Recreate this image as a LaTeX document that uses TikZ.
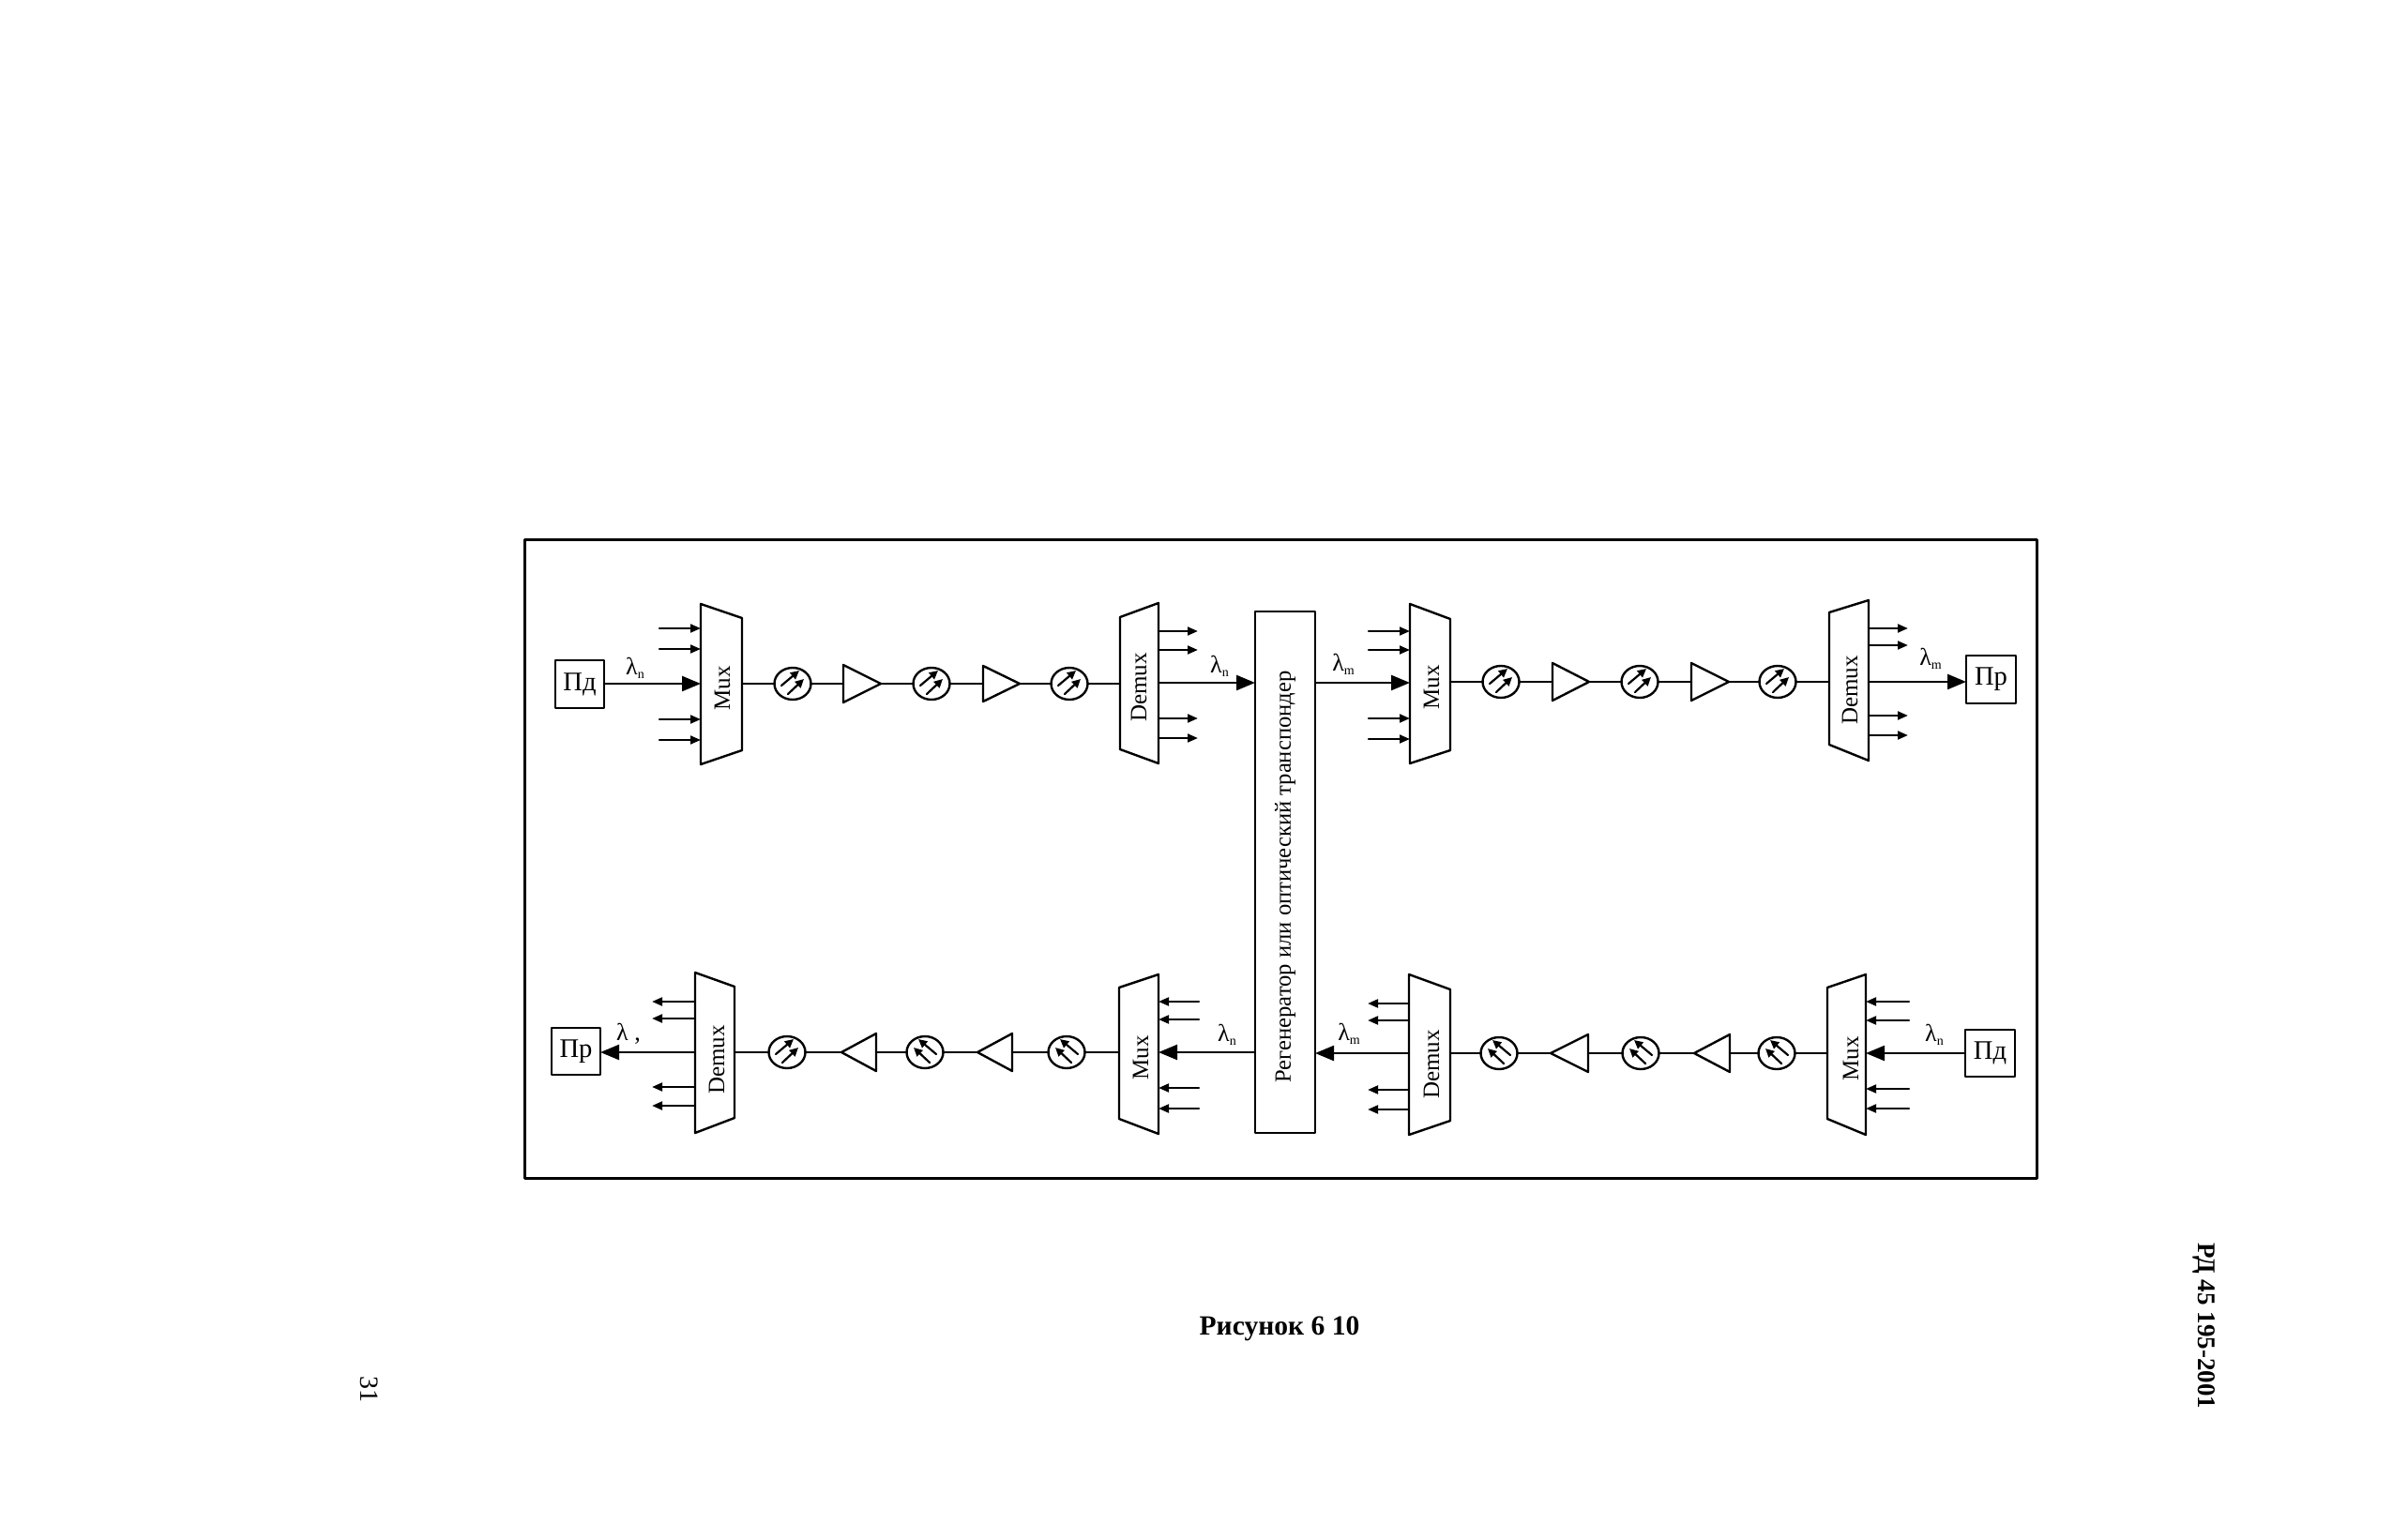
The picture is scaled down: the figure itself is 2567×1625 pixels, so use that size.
\documentclass[tikz,border=0pt]{standalone}
\usepackage{fontspec}
\setmainfont{Liberation Serif}
\usetikzlibrary{arrows.meta,shapes.geometric}
\tikzset{
  every node/.style={inner sep=0pt,outer sep=0pt},
  base/.style={line width=1.2pt,line join=round,line cap=round},
  framebox/.style={base,line width=1.5pt},
  unitbox/.style={base,draw,line width=1.3pt,rectangle,font=\fontsize{14.3}{16}\selectfont},
  fibre/.style={base,draw,ellipse,minimum width=19.5pt,minimum height=17pt},
  label/.style={font=\fontsize{12.5}{15}\selectfont},
  regenlabel/.style={font=\fontsize{12.3}{15}\selectfont},
  mainline/.style={base,-{Triangle[length=10pt,width=8pt]}},
  sideline/.style={base,-{Triangle[length=5.5pt,width=4.4pt]}},
  fibrearrow/.style={base,line width=1.1pt,-{Triangle[length=4.6pt,width=4.4pt]}},
  wl/.style={font=\fontsize{13}{15}\selectfont}
}
\newcommand{\lam}[1]{λ\raisebox{-.35ex}{\fontsize{7}{8}\selectfont #1}}
% box: name, x1, y1, x2, y2, text
\newcommand{\unit}[6]{\node[unitbox,minimum width=#4*0.5pt-#2*0.5pt,minimum height=#5*0.5pt-#3*0.5pt] (#1) at ({(#2+#4)/2},{(#3+#5)/2}) {#6};}
% trapezoid: name, xl, xr, yl-top, yl-bot, yr-top, yr-bot
\newcommand{\trap}[7]{\draw[base] (#2,#4) -- (#3,#6) -- (#3,#7) -- (#2,#5) -- cycle;
  \coordinate (#1L) at (#2,{(#4+#5)/2}); \coordinate (#1R) at (#3,{(#4+#5)/2});}
% amplifier: name, xbase, xtip, ytop, ybot
\newcommand{\amp}[5]{\draw[base] (#2,#4) -- (#3,{(#4+#5)/2}) -- (#2,#5) -- cycle;
  \coordinate (#1B) at (#2,{(#4+#5)/2}); \coordinate (#1T) at (#3,{(#4+#5)/2});}
% fibre span: name, x, y, direction
\newcommand{\fib}[4]{\node[fibre] (#1) at (#2,#3) {};
  \begin{scope}[shift={(#1)},xscale=#4]
   \draw[fibrearrow] (-12,2) -- (7,-14);
   \draw[fibrearrow] (-5,11) -- (12,-5);
  \end{scope}}
% side arrow: name, x from, x to, y
\newcommand{\sidearrow}[4]{\coordinate (#1a) at (#2,#4); \coordinate (#1b) at (#3,#4); \draw[sideline] (#1a) -- (#1b);}
\begin{document}
\begin{tikzpicture}[x=0.5pt,y=-0.5pt]
\useasboundingbox (0,0) rectangle (2567,1625);
\node[draw,framebox,minimum width=806pt,minimum height=340pt] (frame) at (1365.5,916) {};

% ---- top left span ----
\unit{txa}{592}{704}{644}{755}{Пд}
\trap{muxa}{747}{791}{644}{815}{659}{800}
\node[label,rotate=90] (muxalab) at (770,734) {Mux};
\sidearrow{ma1}{703}{747}{670}
\sidearrow{ma2}{703}{747}{692}
\sidearrow{ma3}{703}{747}{767}
\sidearrow{ma4}{703}{747}{789}
\coordinate (muxain) at (747,729);
\coordinate (muxaout) at (791,729);
\draw[mainline] (txa.east |- muxain) -- (muxain);
\node[wl] (la) at (677,712) {\lam{n}};
\fib{fa1}{845}{729}{1}
\fib{fa2}{993}{729}{1}
\fib{fa3}{1140}{729}{1}
\amp{aa1}{899}{939}{709}{749}
\amp{aa2}{1048}{1087}{710}{748}
\trap{dma}{1194}{1235}{658}{799}{643}{814}
\node[label,rotate=90] (dmalab) at (1214,733) {Demux};
\coordinate (dmain) at (1194,729);
\coordinate (dmaout) at (1235,728);
\draw[base] (muxaout) -- (fa1) (fa1) -- (aa1B) (aa1T) -- (fa2) (fa2) -- (aa2B) (aa2T) -- (fa3) (fa3) -- (dmain);
\sidearrow{da1}{1235}{1277}{673}
\sidearrow{da2}{1235}{1277}{693}
\sidearrow{da3}{1235}{1277}{766}
\sidearrow{da4}{1235}{1277}{787}

% ---- regenerator ----
\unit{regen}{1338}{652}{1402}{1208}{}
\node[regenlabel,rotate=90] (regenlab) at (1370,935) {Регенератор или оптический транспондер};
\coordinate (regTL) at (1338,728);
\coordinate (regTR) at (1402,728);
\coordinate (regBL) at (1338,1123);
\coordinate (regBR) at (1402,1123);
\draw[mainline] (dmaout) -- (regTL);
\node[wl] (lb) at (1300,710) {\lam{n}};

% ---- top right span ----
\trap{muxb}{1503}{1546}{644}{814}{660}{800}
\node[label,rotate=90] (muxblab) at (1526,733) {Mux};
\sidearrow{mb1}{1459}{1503}{673}
\sidearrow{mb2}{1459}{1503}{693}
\sidearrow{mb3}{1459}{1503}{766}
\sidearrow{mb4}{1459}{1503}{788}
\coordinate (muxbin) at (1503,728);
\coordinate (muxbout) at (1546,727);
\draw[mainline] (regTR) -- (muxbin);
\node[wl] (lc) at (1432,708) {\lam{m}};
\fib{fb1}{1600}{727}{1}
\fib{fb2}{1748}{727}{1}
\fib{fb3}{1895}{727}{1}
\amp{ab1}{1655}{1694}{707}{747}
\amp{ab2}{1803}{1843}{707}{747}
\trap{dmb}{1950}{1992}{653}{794}{640}{811}
\node[label,rotate=90] (dmblab) at (1972,736) {Demux};
\coordinate (dmbin) at (1950,727);
\coordinate (dmbout) at (1992,727);
\draw[base] (muxbout) -- (fb1) (fb1) -- (ab1B) (ab1T) -- (fb2) (fb2) -- (ab2B) (ab2T) -- (fb3) (fb3) -- (dmbin);
\sidearrow{db1}{1992}{2034}{670}
\sidearrow{db2}{1992}{2034}{688}
\sidearrow{db3}{1992}{2034}{763}
\sidearrow{db4}{1992}{2034}{784}
\unit{rxb}{2096}{699}{2149}{750}{Пр}
\draw[mainline] (dmbout) -- (rxb.west |- dmbout);
\node[wl] (ld) at (2058,702) {\lam{m}};

% ---- bottom right span ----
\unit{txc}{2095}{1098}{2148}{1148}{Пд}
\trap{muxc}{1948}{1989}{1053}{1193}{1039}{1210}
\node[label,rotate=90] (muxclab) at (1973,1129) {Mux};
\sidearrow{mc1}{2035}{1989}{1068}
\sidearrow{mc2}{2035}{1989}{1088}
\sidearrow{mc3}{2035}{1989}{1161}
\sidearrow{mc4}{2035}{1989}{1182}
\coordinate (muxcin) at (1989,1123);
\coordinate (muxcout) at (1948,1123);
\draw[mainline] (txc.west |- muxcin) -- (muxcin);
\node[wl] (le) at (2062,1103) {\lam{n}};
\fib{fc1}{1894}{1123}{-1}
\fib{fc2}{1749}{1123}{-1}
\fib{fc3}{1598}{1123}{-1}
\amp{ac1}{1844}{1806}{1103}{1143}
\amp{ac2}{1693}{1653}{1103}{1143}
\trap{dmc}{1502}{1546}{1039}{1210}{1055}{1195}
\node[label,rotate=90] (dmclab) at (1526,1135) {Demux};
\coordinate (dmcin) at (1546,1123);
\coordinate (dmcout) at (1502,1123);
\draw[base] (muxcout) -- (fc1) (fc1) -- (ac1B) (ac1T) -- (fc2) (fc2) -- (ac2B) (ac2T) -- (fc3) (fc3) -- (dmcin);
\sidearrow{dc1}{1502}{1458}{1070}
\sidearrow{dc2}{1502}{1458}{1088}
\sidearrow{dc3}{1502}{1458}{1162}
\sidearrow{dc4}{1502}{1458}{1183}
\draw[mainline] (dmcout) -- (regBR);
\node[wl] (lf) at (1438,1102) {\lam{m}};

% ---- bottom left span ----
\trap{muxd}{1193}{1235}{1053}{1193}{1039}{1209}
\node[label,rotate=90] (muxdlab) at (1216,1128) {Mux};
\sidearrow{md1}{1278}{1235}{1068}
\sidearrow{md2}{1278}{1235}{1087}
\sidearrow{md3}{1278}{1235}{1160}
\sidearrow{md4}{1278}{1235}{1182}
\coordinate (muxdin) at (1235,1122);
\coordinate (muxdout) at (1193,1122);
\draw[mainline] (regBL |- muxdin) -- (muxdin);
\node[wl] (lg) at (1308,1103) {\lam{n}};
\fib{fd1}{1137}{1122}{-1}
\fib{fd2}{986}{1122}{-1}
\fib{fd3}{839}{1122}{1}
\amp{ad1}{1079}{1042}{1102}{1142}
\amp{ad2}{934}{897}{1102}{1142}
\trap{dmd}{741}{783}{1037}{1208}{1052}{1192}
\node[label,rotate=90] (dmdlab) at (764,1130) {Demux};
\coordinate (dmdin) at (783,1122);
\coordinate (dmdout) at (741,1122);
\draw[base] (muxdout) -- (fd1) (fd1) -- (ad1B) (ad1T) -- (fd2) (fd2) -- (ad2B) (ad2T) -- (fd3) (fd3) -- (dmdin);
\sidearrow{dd1}{741}{695}{1068}
\sidearrow{dd2}{741}{695}{1086}
\sidearrow{dd3}{741}{695}{1159}
\sidearrow{dd4}{741}{695}{1179}
\unit{rxd}{588}{1096}{640}{1146}{Пр}
\draw[mainline] (dmdout) -- (rxd.east |- dmdout);
\node[wl] (lh) at (670,1102) {λ ,};

% ---- page texts ----
\node[font=\bfseries\fontsize{14.8}{17}\selectfont] (caption) at (1364,1417) {Рисунок 6 10};
\node[font=\bfseries\fontsize{13.5}{15}\selectfont,rotate=-90] (docid) at (2350,1414) {РД 45 195-2001};
\node[font=\fontsize{14}{16}\selectfont,rotate=-90] (pageno) at (394,1481) {31};
\end{tikzpicture}
\end{document}
